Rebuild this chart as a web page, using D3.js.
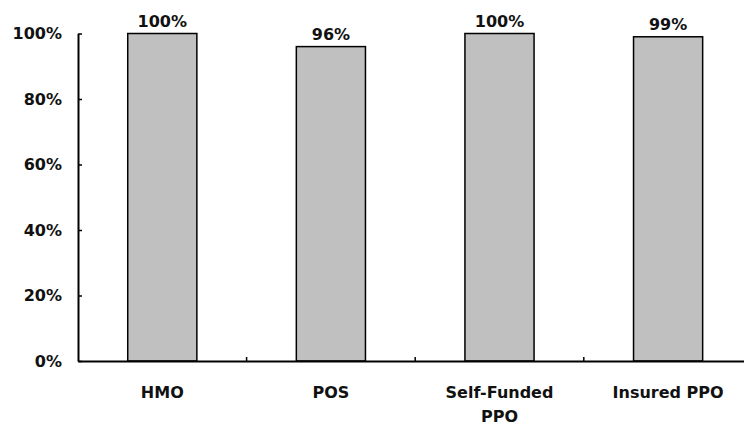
<!DOCTYPE html>
<html>
<head>
<meta charset="utf-8">
<script src="https://cdn.jsdelivr.net/npm/d3@7"></script>
<style>
  html, body { margin: 0; padding: 0; background: #fff; }
  svg { display: block; }
  text { font-family: "DejaVu Sans", Verdana, sans-serif; font-weight: bold; fill: #111; }
</style>
</head>
<body>
<svg id="chart" width="744" height="429"></svg>
<script>
// Plan types and share of plans (percent)
const categories = ["HMO", "POS", "Self-Funded\nPPO", "Insured PPO"];
const values = [100, 96, 100, 99];
const tickValues = [0, 20, 40, 60, 80, 100];

const svg = d3.select("#chart");
const plotLeft = 78, plotTop = 33.5, plotBottom = 361, step = 168.6;
const plotRight = plotLeft + categories.length * step;
const fontSize = 16;

const x = d3.scaleBand()
  .domain(categories)
  .range([plotLeft, plotRight])
  .paddingInner(0.59)
  .paddingOuter(0.295);

const y = d3.scaleLinear().domain([0, 100]).range([plotBottom, plotTop]);

// Bars
svg.append("g").selectAll("rect")
  .data(values)
  .join("rect")
  .attr("x", (d, i) => x(categories[i]))
  .attr("y", d => y(d))
  .attr("width", x.bandwidth())
  .attr("height", d => y(0) - y(d))
  .attr("fill", "#c0c0c0")
  .attr("stroke", "#000")
  .attr("stroke-width", 1.5);

// Value labels
svg.append("g").selectAll("text")
  .data(values)
  .join("text")
  .attr("x", (d, i) => x(categories[i]) + x.bandwidth() / 2)
  .attr("y", d => y(d) - 7)
  .attr("text-anchor", "middle")
  .attr("font-size", fontSize)
  .text(d => d + "%");

// Y axis
const yAxis = d3.axisLeft(y)
  .tickValues(tickValues)
  .tickFormat(d => d + "%")
  .tickSizeInner(-4)
  .tickSizeOuter(0)
  .tickPadding(16);
const gy = svg.append("g").attr("transform", `translate(${plotLeft},0)`).call(yAxis);
gy.select(".domain").attr("stroke", "#000").attr("stroke-width", 2);
gy.selectAll(".tick line").attr("stroke", "#000").attr("stroke-width", 1.5);
gy.selectAll(".tick text")
  .attr("font-size", fontSize)
  .attr("font-family", "DejaVu Sans, Verdana, sans-serif")
  .attr("font-weight", "bold")
  .attr("fill", "#111");

// X axis with ticks at category boundaries
const xAxis = d3.axisBottom(x).tickSize(0).tickSizeOuter(0).tickPadding(0).tickFormat("");
const gx = svg.append("g").attr("transform", `translate(0,${plotBottom})`).call(xAxis);
gx.select(".domain").attr("stroke", "#000").attr("stroke-width", 2);
gx.selectAll(".tick").remove();

gx.selectAll("line.sep")
  .data(categories.slice(1))
  .join("line")
  .attr("class", "sep")
  .attr("x1", d => x(d) - x.step() * x.paddingInner() / 2)
  .attr("x2", d => x(d) - x.step() * x.paddingInner() / 2)
  .attr("y1", 0)
  .attr("y2", -4)
  .attr("stroke", "#000")
  .attr("stroke-width", 1.5);

// Category labels (may wrap to two lines)
const labels = svg.append("g").selectAll("text")
  .data(categories)
  .join("text")
  .attr("x", d => x(d) + x.bandwidth() / 2)
  .attr("y", 398)
  .attr("text-anchor", "middle")
  .attr("font-size", fontSize);
labels.each(function(d) {
  const t = d3.select(this);
  d.split("\n").forEach((line, i) => {
    t.append("tspan")
      .attr("x", t.attr("x"))
      .attr("dy", i === 0 ? 0 : 24)
      .text(line);
  });
});
</script>
</body>
</html>
